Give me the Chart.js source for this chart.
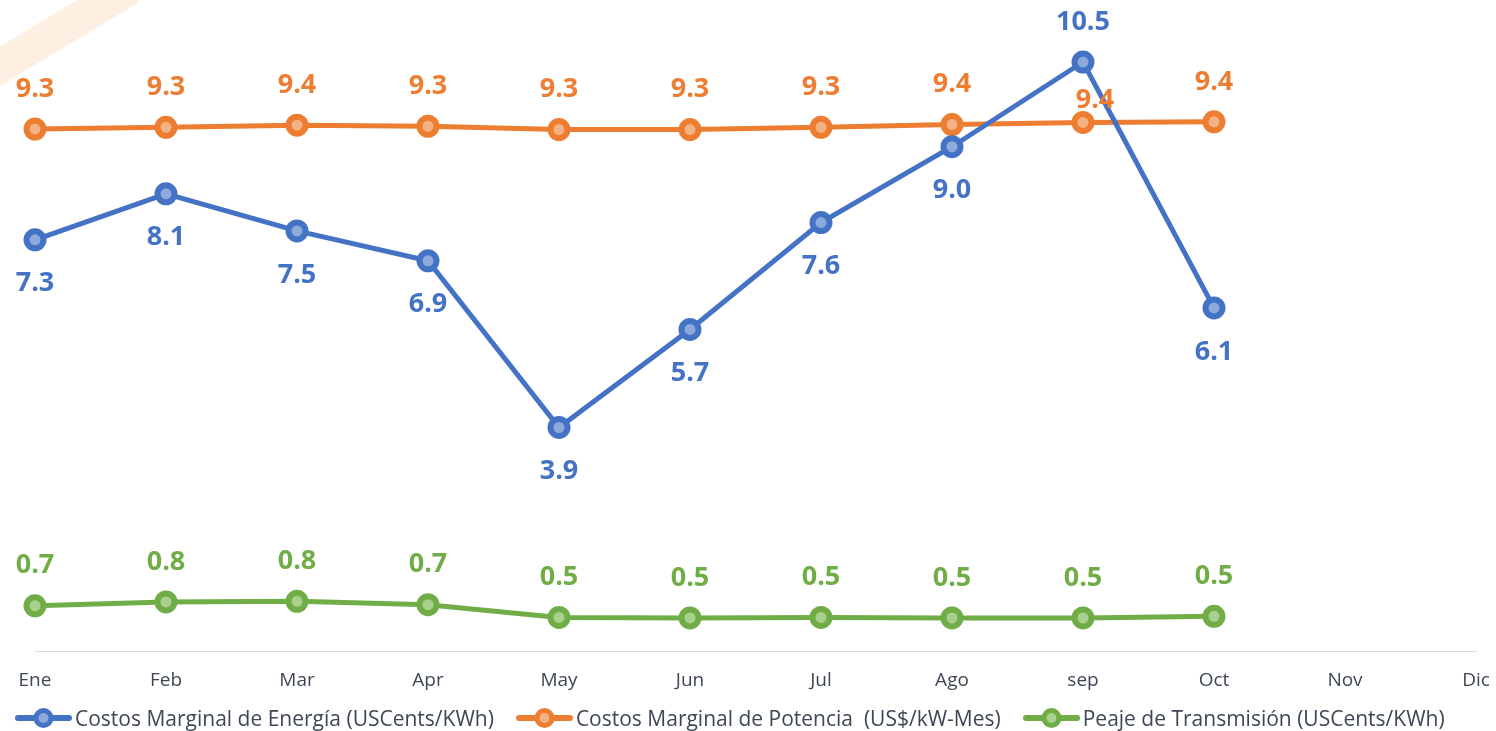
<!DOCTYPE html>
<html>
<head>
<meta charset="utf-8">
<script src="https://cdn.jsdelivr.net/npm/chart.js@4.4.1/dist/chart.umd.min.js"></script>
<style>
  body { margin: 0; background: #fff; }
  #wrap { position: relative; width: 1496px; height: 731px; }
  #legend { position: absolute; left: 15px; top: 704px; display: flex; font: 21px 'Open Sans'; line-height: 28px; color: #3E4756; white-space: pre; }
  .item { display: flex; align-items: center; margin-right: 22px; }
  .item svg { margin-right: 3px; }
</style>
</head>
<body>
<div id="wrap">
  <canvas id="costChart" width="1496" height="731"></canvas>
  <div id="legend"></div>
</div>
<script>
const months = ['Ene', 'Feb', 'Mar', 'Apr', 'May', 'Jun', 'Jul', 'Ago', 'sep', 'Oct', 'Nov', 'Dic']
const energia = [7.29, 8.12, 7.45, 6.91, 3.9, 5.67, 7.6, 8.97, 10.5, 6.06]
const potencia = [9.29, 9.32, 9.36, 9.34, 9.28, 9.28, 9.32, 9.37, 9.41, 9.42]
const peaje = [0.68, 0.75, 0.76, 0.70, 0.47, 0.46, 0.47, 0.46, 0.46, 0.49]
const seriesNames = [
  'Costos Marginal de Energía (USCents/KWh)',
  'Costos Marginal de Potencia  (US$/kW-Mes)',
  'Peaje de Transmisión (USCents/KWh)'
]

const colors = ['#4472C4', '#ED7D31', '#70AD47']
const lightColors = ['#8EA9DB', '#F4B183', '#A9D18E']

// watermark stripe in the top-left corner
const watermark = {
  id: 'watermark',
  beforeDraw(chart) {
    const ctx = chart.ctx
    ctx.save()
    ctx.strokeStyle = '#FDF0E3'
    ctx.lineWidth = 34
    ctx.beginPath()
    ctx.moveTo(-20, 78)
    ctx.lineTo(130, -12)
    ctx.stroke()
    ctx.restore()
  }
}

// value labels above / below each point
const valueLabels = {
  id: 'valueLabels',
  afterDatasetsDraw(chart) {
    const ctx = chart.ctx
    ctx.save()
    ctx.font = 'bold 27px "Open Sans"'
    ctx.textAlign = 'center'
    ctx.textBaseline = 'middle'
    chart.data.datasets.forEach((ds, i) => {
      const meta = chart.getDatasetMeta(i)
      ctx.fillStyle = ds.borderColor
      meta.data.forEach((pt, j) => {
        const dx = ds.labelDx ? ds.labelDx[j] : 0
        ctx.fillText(ds.data[j].toFixed(1), pt.x + dx, pt.y + ds.labelDy[j])
      })
    })
    ctx.restore()
  }
}

function makeDataset(label, data, idx, labelDy, labelDx) {
  return {
    label: label,
    data: data,
    borderColor: colors[idx],
    backgroundColor: lightColors[idx],
    borderWidth: 5,
    pointRadius: 8.5,
    pointBorderWidth: 6,
    pointBackgroundColor: lightColors[idx],
    pointBorderColor: colors[idx],
    tension: 0,
    clip: false,
    labelDy: labelDy,
    labelDx: labelDx
  }
}

const B = 44, A = -40
new Chart(document.getElementById('costChart'), {
  type: 'line',
  data: {
    labels: months,
    datasets: [
      makeDataset(seriesNames[0], energia, 0, [B, B, B, B, B, B, B, B, A, B]),
      makeDataset(seriesNames[1], potencia, 1, [A, A, A, A, A, A, A, A, -22, A], [0, 0, 0, 0, 0, 0, 0, 0, 12, 0]),
      makeDataset(seriesNames[2], peaje, 2, [A, A, A, A, A, A, A, A, A, A])
    ]
  },
  options: {
    responsive: false,
    animation: false,
    devicePixelRatio: 1,
    layout: { autoPadding: false, padding: { left: 35, right: 20, top: 0, bottom: 39 } },
    plugins: {
      legend: { display: false },
      tooltip: { enabled: false }
    },
    scales: {
      x: {
        offset: false,
        grid: { display: true, drawOnChartArea: false, drawTicks: true, tickLength: 18, tickColor: 'rgba(0,0,0,0)' },
        border: { display: true, color: '#D9D9D9', width: 1 },
        ticks: { padding: 0, color: '#3E4756', font: { family: 'Open Sans', size: 19 }, maxRotation: 0, autoSkip: false }
      },
      y: {
        display: false,
        min: -0.14,
        max: 11.62
      }
    }
  },
  plugins: [watermark, valueLabels]
})

// legend with line + marker, like the spreadsheet one
const legend = document.getElementById('legend')
seriesNames.forEach((name, i) => {
  const item = document.createElement('div')
  item.className = 'item'
  item.innerHTML = `<svg width="57" height="22"><line x1="3" y1="11" x2="54" y2="11" stroke="${colors[i]}" stroke-width="6" stroke-linecap="round"/><circle cx="28.5" cy="11" r="7.5" stroke="${colors[i]}" stroke-width="5" fill="${lightColors[i]}"/></svg><span>${name}</span>`
  legend.appendChild(item)
})
</script>
</body>
</html>
